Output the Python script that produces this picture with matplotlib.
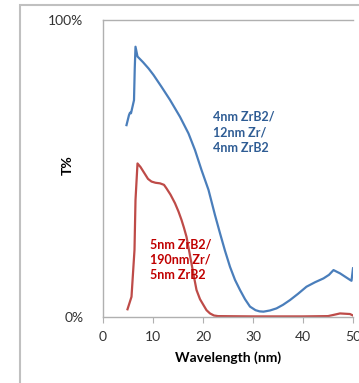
import matplotlib.pyplot as plt
from matplotlib.patches import Rectangle

# Datos (longitud de onda en nm, transmisión en %)
wl_blue = [4.7, 5.2, 5.4, 5.6, 5.9, 6.2, 6.35, 6.5, 6.9, 8.0, 9.1, 10.1, 11.7, 13.4,
           15.4, 17.1, 18.4, 19.7, 21.1, 22.4, 23.4, 24.4, 25.4, 26.4, 27.4, 28.4,
           29.4, 30.5, 31.3, 32.1, 33.4, 34.7, 36.0, 37.4, 39.0, 40.7, 42.4, 44.1,
           45.2, 46.1, 46.8, 47.4, 48.4, 49.4, 49.7, 50.0]
t_blue = [64.6, 68.0, 68.8, 68.6, 70.8, 73.0, 83.7, 91.0, 87.7, 85.8, 83.7, 81.5, 77.5, 73.1,
          67.4, 61.8, 56.2, 49.5, 42.8, 34.3, 28.2, 22.3, 16.9, 12.5, 9.1, 6.0,
          3.5, 2.3, 1.9, 1.8, 2.2, 2.9, 4.1, 5.7, 7.8, 10.2, 11.7, 13.0,
          14.2, 15.8, 15.2, 14.7, 13.6, 12.5, 12.2, 16.4]

wl_red = [4.9, 5.7, 6.3, 6.5, 6.9, 7.5, 8.1, 9.0, 9.7, 10.5, 11.4, 12.2, 12.7, 13.5,
          14.4, 15.1, 15.7, 16.2, 16.7, 17.2, 17.7, 18.2, 18.7, 19.4, 20.1, 20.7,
          21.4, 22.2, 23.0, 30.0, 40.0, 45.0, 46.1, 47.4, 49.4, 50.0]
t_red = [2.6, 6.8, 22.6, 39.4, 51.7, 50.5, 48.9, 46.5, 45.6, 45.2, 45.0, 44.5, 43.3, 41.2,
         38.3, 35.5, 32.7, 30.0, 27.0, 22.5, 18.0, 13.5, 9.1, 6.0, 4.0, 2.3,
         1.2, 0.5, 0.3, 0.2, 0.2, 0.3, 0.7, 1.2, 1.0, 0.5]

label_blue = '4nm ZrB2/\n12nm Zr/\n4nm ZrB2'
label_red = '5nm ZrB2/\n190nm Zr/\n5nm ZrB2'

plt.rcParams['font.family'] = ['Lato', 'DejaVu Sans']

fig = plt.figure(figsize=(3.59, 3.83), dpi=100)

# Marco exterior del gráfico
fig.patches.append(Rectangle((20 / 359, -0.1), 1.2, (383 - 5) / 383 + 0.1,
                             transform=fig.transFigure, fill=False,
                             edgecolor='#c0c0c0', linewidth=1.5))

ax = fig.add_axes([103 / 359, 66 / 383, 250 / 359, 297 / 383])
ax.plot(wl_blue, t_blue, color='#4A7EBB', linewidth=1.6, solid_joinstyle='round')
ax.plot(wl_red, t_red, color='#BE4B48', linewidth=1.6, solid_joinstyle='round')

ax.set_xlim(0, 50)
ax.set_ylim(0, 100)
ax.set_xticks([0, 10, 20, 30, 40, 50])
ax.set_yticks([0, 100])
ax.set_yticklabels(['0%', '100%'])

for s in ['left', 'top', 'bottom']:
    ax.spines[s].set_color('#b0b0b0')
    ax.spines[s].set_linewidth(1.0)
ax.spines['right'].set_visible(False)
ax.tick_params(axis='x', length=4, color='#b0b0b0', labelsize=10, pad=6, labelcolor='#333333')
ax.tick_params(axis='y', length=0, labelsize=10, pad=14, labelcolor='#333333')

ax.set_xlabel('Wavelength (nm)', fontsize=10, fontweight='bold', labelpad=6)
ax.set_ylabel('T%', fontsize=10, fontweight='bold')
ax.yaxis.set_label_coords(-0.116, 0.51)

ax.text(22, 69.5, label_blue, color='#2E5C94', fontsize=9, fontweight='bold',
        va='top', linespacing=1.35)
ax.text(9.5, 26.5, label_red, color='#C00000', fontsize=9, fontweight='bold',
        va='top', linespacing=1.35)

fig.savefig('out.png', dpi=100)
